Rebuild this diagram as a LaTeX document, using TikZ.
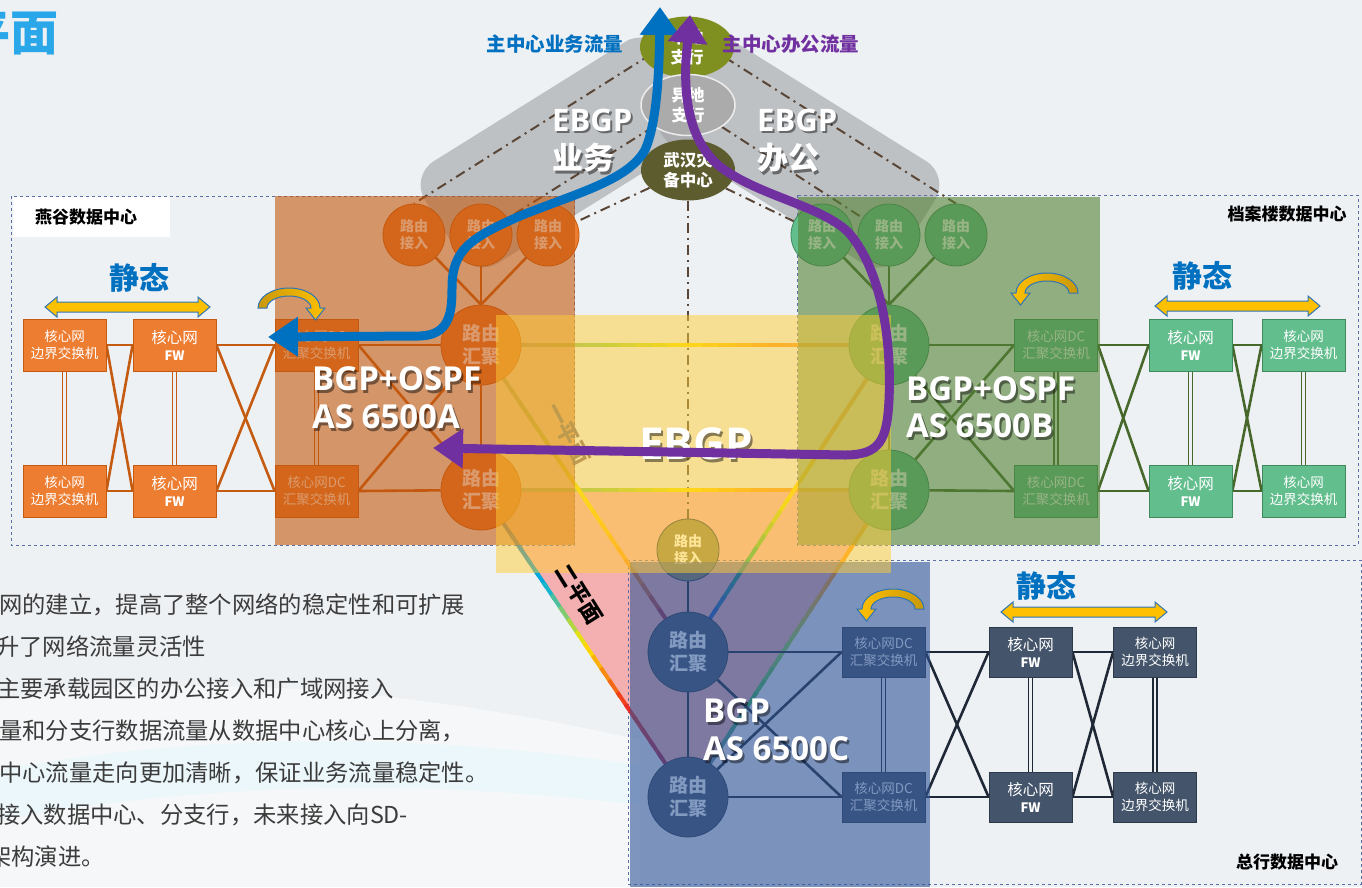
\documentclass[tikz,border=0pt]{standalone}
\usepackage{fontspec}
\setmainfont{Noto Sans CJK SC}
\newfontfamily\osfam{Open Sans}
\usetikzlibrary{arrows.meta,calc,shapes.geometric}
\pgfdeclarelayer{back}
\pgfdeclarelayer{lines}
\pgfsetlayers{back,lines,main}
\definecolor{bg}{HTML}{EEF1F4}
\definecolor{oF}{HTML}{ED7D31}
\definecolor{oD}{HTML}{C55A11}
\definecolor{gF}{HTML}{63BE8E}
\definecolor{gD}{HTML}{3E8A5C}
\definecolor{gL}{HTML}{47682B}
\definecolor{nF}{HTML}{44546A}
\definecolor{nD}{HTML}{2E3A4A}
\definecolor{nL}{HTML}{1E2836}
\definecolor{bandC}{HTML}{9FA1A5}
\definecolor{ddC}{HTML}{5A4636}
\definecolor{boxD}{HTML}{5B6EA6}
\definecolor{blueA}{HTML}{0070C0}
\definecolor{purA}{HTML}{7030A0}
\definecolor{statY}{HTML}{FFC000}
\definecolor{statB}{HTML}{2E75B6}
\definecolor{goldD}{HTML}{C9980A}
\definecolor{olv}{HTML}{7F9020}
\definecolor{olvD}{HTML}{5C5C2E}
\definecolor{ydC}{HTML}{ABABAB}
\definecolor{pinkC}{HTML}{F4B0B0}
\definecolor{titleC}{HTML}{2AA7E8}
\definecolor{txtC}{HTML}{3C3C3C}
\definecolor{ovO}{HTML}{C3580D}
\definecolor{ovG}{HTML}{548235}
\definecolor{ovB}{HTML}{2F5597}
\definecolor{ovY}{HTML}{FFCC33}
\definecolor{rBl}{HTML}{2050C0}
\definecolor{rCy}{HTML}{00B0E0}
\definecolor{rGn}{HTML}{30B060}
\definecolor{rLg}{HTML}{92D050}
\definecolor{rYe}{HTML}{FFE600}
\definecolor{rOr}{HTML}{FF9A20}
\definecolor{rRd}{HTML}{F03020}
\definecolor{rMa}{HTML}{A02050}
\definecolor{rGg}{HTML}{8FAF8F}
\definecolor{rTa}{HTML}{E39A5A}
\definecolor{rSl}{HTML}{6080A0}
\definecolor{tanT}{HTML}{BE9A4E}

\newcommand\fs[2]{\fontsize{#1}{#2}\selectfont}
% gradient line between two round nodes
\newcommand\rline[9]{%
 \colorlet{rc0}{#5}\colorlet{rc1}{#6}\colorlet{rc2}{#7}\colorlet{rc3}{#8}\colorlet{rc4}{#9}%
 \path ($(#1)!#3!(#2)$) coordinate (rs) ($(#2)!#4!(#1)$) coordinate (re);%
 \foreach \k in {0,...,19}{%
   \pgfmathsetmacro\rA{\k/20}%
   \pgfmathsetmacro\rB{min(1,(\k+1.4)/20)}%
   \pgfmathsetmacro\rT{(\k+0.5)/5}%
   \pgfmathtruncatemacro\rS{min(3,floor(\rT))}%
   \pgfmathtruncatemacro\rN{\rS+1}%
   \pgfmathsetmacro\rP{100*(1-(\rT-\rS))}%
   \draw[line width=4, color=rc\rS!\rP!rc\rN] ($(rs)!\rA!(re)$) -- ($(rs)!\rB!(re)$);%
 }}
\newcommand\statarrow[3]{%
 \filldraw[fill=statY, draw=statB, line width=1] (#1,#3) -- (#1+12,#3-10) -- (#1+12,#3-5) -- (#2-12,#3-5) -- (#2-12,#3-10) -- (#2,#3) -- (#2-12,#3+10) -- (#2-12,#3+5) -- (#1+12,#3+5) -- (#1+12,#3+10) -- cycle;}
\newcommand\ribbonR[2]{%
 \shade[left color=goldD, right color=statY, draw=statB, line width=1] (#1-31,#2) arc[start angle=180, end angle=360, x radius=31, y radius=20] -- ++(5,0) -- ++(-9.5,12) -- ++(-9.5,-12) -- ++(5,0) arc[start angle=360, end angle=180, x radius=22, y radius=12] -- cycle;}
\newcommand\ribbonL[2]{%
 \shade[left color=statY, right color=goldD, draw=statB, line width=1] (#1+31,#2) arc[start angle=0, end angle=-180, x radius=31, y radius=20] -- ++(-5,0) -- ++(9.5,12) -- ++(9.5,-12) -- ++(-5,0) arc[start angle=-180, end angle=0, x radius=22, y radius=12] -- cycle;}
\newcommand\shtxt[4]{%
 \node[#3, text=black, text opacity=0.45] at ($#2+(2,2.5)$) {#4};
 \node[#3, text=white] (#1) at #2 {#4};}

\begin{document}
\begin{tikzpicture}[x=1pt, y=-1pt,
  box/.style={rectangle, minimum width=83, minimum height=52, inner sep=0, text=white, align=center, line width=0.8, font=\fs{13.5}{17}},
  obox/.style={box, fill=oF, draw=oD},
  gbox/.style={box, fill=gF, draw=gD},
  nbox/.style={box, fill=nF, draw=nD, minimum height=50},
  rcirc/.style={circle, minimum size=80, inner sep=0, text=white, align=center, line width=0.8, font=\fs{19}{23}\bfseries},
  acirc/.style={circle, minimum size=62, inner sep=0, text=white, align=center, line width=0.8, font=\fs{14}{17}\bfseries},
  ell/.style={ellipse, minimum width=94, minimum height=61, inner sep=0, text=white, align=center, font=\fs{16.5}{20}\bfseries},
  conn/.style={line width=2.6},
  dbl/.style={line width=1.4, double=bg, double distance=2.4},
  ddot/.style={ddC, line width=2, dash pattern=on 10pt off 5pt on 2pt off 5pt},
  flow/.style={line width=9, line join=round, {Triangle[length=30pt,width=38pt]}-{Triangle[length=28pt,width=38pt]}},
  big/.style={font=\osfam\bfseries\fs{33}{36}, inner sep=0, anchor=west},
  para/.style={anchor=west, text=txtC, font=\fs{23.3}{26}, inner sep=0},
  dclab/.style={text=black, font=\fs{17}{20}\bfseries, inner sep=0},
  stat/.style={text=blueA, font=\fs{30}{34}\bfseries, inner sep=0},
]
\useasboundingbox (0,0) rectangle (1362,887);

\begin{pgfonlayer}{back}
\fill[bg] (0,0) rectangle (1362,887);
\fill[white, opacity=0.45] (0,700) .. controls (200,670) and (420,690) .. (640,740) -- (640,887) -- (0,887) -- cycle;
\fill[cyan!10, opacity=0.6] (0,770) .. controls (220,730) and (430,735) .. (640,765) -- (640,805) .. controls (430,780) and (220,780) .. (0,820) -- cycle;
% EBGP bands
\fill[bandC, opacity=0.6, rounded corners=28] (410,176) -- (649,27) -- (713,129) -- (474,278) -- cycle;
\fill[bandC, opacity=0.6, rounded corners=28] (950,176) -- (711,27) -- (647,129) -- (886,278) -- cycle;
% second plane
\fill[pinkC] (481,490) -- (889,490) -- (688,797) -- cycle;
% data-centre frames
\draw[boxD, dashed, line width=1] (11,196) rectangle (574,545);
\draw[boxD, dashed, line width=1] (797,195) rectangle (1358,545);
\draw[boxD, dashed, line width=1] (628,560) rectangle (1361,884);
\end{pgfonlayer}

% title and text
\node[anchor=east, text=titleC, font=\fs{48}{52}\bfseries, inner sep=0] (ttl) at (59,34) {平面};
\node[para] (p1) at (-1,605) {网的建立，提高了整个网络的稳定性和可扩展};
\node[para] (p2) at (-4,647) {升了网络流量灵活性};
\node[para] (p3) at (-3,689) {主要承载园区的办公接入和广域网接入};
\node[para] (p4) at (-1,731) {量和分支行数据流量从数据中心核心上分离，};
\node[para] (p5) at (-1,773) {中心流量走向更加清晰，保证业务流量稳定性。};
\node[para] (p6) at (-3,815) {接入数据中心、分支行，未来接入向SD-};
\node[para] (p7) at (-12,857) {架构演进。};

% branch ellipses
\node[ell, fill=olv] (bd) at (687,47) {本地\\支行};
\node[ell, fill=ydC, draw=white!85!gray, line width=1.5] (yd) at (688,105) {异地\\支行};
\node[ell, fill=olvD] (wh) at (688,170) {武汉灾\\备中心};

% Yangu (orange)
\node[obox] (eL1) at (64.5,345) {核心网\\边界交换机};
\node[obox] (eL2) at (64.5,491) {核心网\\边界交换机};
\node[obox] (fL1) at (174.5,345) {{\fs{15.5}{19}核心网}\\{\fs{13}{16}\bfseries FW}};
\node[obox] (fL2) at (174.5,491) {{\fs{15.5}{19}核心网}\\{\fs{13}{16}\bfseries FW}};
\node[obox] (dL1) at (316.5,345) {核心网DC\\汇聚交换机};
\node[obox] (dL2) at (316.5,491) {核心网DC\\汇聚交换机};
\node[rcirc, fill=oF, draw=oD] (aL1) at (481,345) {路由\\汇聚};
\node[rcirc, fill=oF, draw=oD] (aL2) at (481,490) {路由\\汇聚};
\node[acirc, fill=oF, draw=oD] (acL1) at (414,235) {路由\\接入};
\node[acirc, fill=oF, draw=oD] (acL2) at (481,235) {路由\\接入};
\node[acirc, fill=oF, draw=oD] (acL3) at (548,235) {路由\\接入};

% Archive building (green)
\node[gbox] (dR1) at (1056,345) {核心网DC\\汇聚交换机};
\node[gbox] (dR2) at (1056,491) {核心网DC\\汇聚交换机};
\node[gbox] (fR1) at (1190.5,345) {{\fs{15.5}{19}核心网}\\{\fs{13}{16}\bfseries FW}};
\node[gbox] (fR2) at (1190.5,491) {{\fs{15.5}{19}核心网}\\{\fs{13}{16}\bfseries FW}};
\node[gbox] (eR1) at (1303.5,345) {核心网\\边界交换机};
\node[gbox] (eR2) at (1303.5,491) {核心网\\边界交换机};
\node[rcirc, fill=gF, draw=gD] (aR1) at (889,345) {路由\\汇聚};
\node[rcirc, fill=gF, draw=gD] (aR2) at (889,490) {路由\\汇聚};
\node[acirc, fill=gF, draw=gD] (acR1) at (822,235) {路由\\接入};
\node[acirc, fill=gF, draw=gD] (acR2) at (889,235) {路由\\接入};
\node[acirc, fill=gF, draw=gD] (acR3) at (956,235) {路由\\接入};

% Head office (navy)
\node[nbox] (dB1) at (883.5,652) {核心网DC\\汇聚交换机};
\node[nbox] (dB2) at (883.5,797) {核心网DC\\汇聚交换机};
\node[nbox] (fB1) at (1030.5,652) {{\fs{15.5}{19}核心网}\\{\fs{13}{16}\bfseries FW}};
\node[nbox] (fB2) at (1030.5,797) {{\fs{15.5}{19}核心网}\\{\fs{13}{16}\bfseries FW}};
\node[nbox] (eB1) at (1155,652) {核心网\\边界交换机};
\node[nbox] (eB2) at (1155,797) {核心网\\边界交换机};
\node[rcirc, fill=nF, draw=nD] (aB1) at (688,652) {路由\\汇聚};
\node[rcirc, fill=nF, draw=nD] (aB2) at (688,797) {路由\\汇聚};
\node[acirc, fill=nF!60!ovY, draw=nD] (acB) at (688,550) {路由\\接入};

\begin{pgfonlayer}{lines}
% EBGP dash-dot links
\coordinate (bdL) at (688,31);
\coordinate (bdR) at (688,34);
\draw[ddot] (bdL) -- (acL1.north);
\draw[ddot] (yd) -- (acL2);
\draw[ddot] (wh) -- (acL3);
\draw[ddot] (bdR) -- (acR3.north);
\draw[ddot] (yd) -- (acR2);
\draw[ddot] (wh) -- (acR1);
\draw[ddot] (wh) -- (acB);
% planes
\rline{aL1}{aR1}{38pt}{38pt}{rGg}{rLg}{rYe}{rOr}{rTa}
\rline{aL2}{aR2}{38pt}{38pt}{rGg}{rLg}{rYe}{rOr}{rTa}
\rline{aL2}{aB2}{38pt}{38pt}{rBl}{rCy}{rYe}{rRd}{rMa}
\rline{aL1}{aB1}{38pt}{38pt}{rGg}{rLg}{rYe}{rOr}{rMa}
\rline{aR1}{aB1}{38pt}{38pt}{rTa}{rOr}{rYe}{rGn}{rBl}
\rline{aR2}{aB2}{38pt}{38pt}{rOr}{rOr}{rLg}{rGn}{rSl}
% left connections
\begin{scope}[conn, oD]
\draw (acL1) -- (aL1.north); \draw (acL2) -- (aL1.north); \draw (acL3) -- (aL1.north);
\draw (aL1) -- (aL2);
\draw (aL1) -- (dL1.east); \draw (aL2) -- (dL2.east);
\draw (aL1) -- (dL2.east); \draw (aL2) -- (dL1.east);
\draw (dL1.west) -- (fL1.east); \draw (dL2.west) -- (fL2.east);
\draw (dL1.west) -- (fL2.east); \draw (dL2.west) -- (fL1.east);
\draw (fL1.west) -- (eL1.east); \draw (fL2.west) -- (eL2.east);
\draw (fL1.west) -- (eL2.east); \draw (fL2.west) -- (eL1.east);
\end{scope}
\draw[dbl, oD] (dL1) -- (dL2); \draw[dbl, oD] (fL1) -- (fL2); \draw[dbl, oD] (eL1) -- (eL2);
% right connections
\begin{scope}[conn, gL]
\draw (acR1) -- (aR1.north); \draw (acR2) -- (aR1.north); \draw (acR3) -- (aR1.north);
\draw (aR1) -- (aR2);
\draw (aR1) -- (dR1.west); \draw (aR2) -- (dR2.west);
\draw (aR1) -- (dR2.west); \draw (aR2) -- (dR1.west);
\draw (dR1.east) -- (fR1.west); \draw (dR2.east) -- (fR2.west);
\draw (dR1.east) -- (fR2.west); \draw (dR2.east) -- (fR1.west);
\draw (fR1.east) -- (eR1.west); \draw (fR2.east) -- (eR2.west);
\draw (fR1.east) -- (eR2.west); \draw (fR2.east) -- (eR1.west);
\end{scope}
\draw[dbl, gL] (dR1) -- (dR2); \draw[dbl, gL] (fR1) -- (fR2); \draw[dbl, gL] (eR1) -- (eR2);
% bottom connections
\begin{scope}[conn, nL]
\draw (acB) -- (aB1);
\draw (aB1) -- (aB2);
\draw (aB1) -- (dB1.west); \draw (aB2) -- (dB2.west);
\draw (aB1) -- (dB2.west); \draw (aB2) -- (dB1.west);
\draw (dB1.east) -- (fB1.west); \draw (dB2.east) -- (fB2.west);
\draw (dB1.east) -- (fB2.west); \draw (dB2.east) -- (fB1.west);
\draw (fB1.east) -- (eB1.west); \draw (fB2.east) -- (eB2.west);
\draw (fB1.east) -- (eB2.west); \draw (fB2.east) -- (eB1.west);
\end{scope}
\draw[dbl, nL] (dB1) -- (dB2); \draw[dbl, nL] (fB1) -- (fB2); \draw[dbl, nL] (eB1) -- (eB2);
\end{pgfonlayer}

% AS overlays
\fill[ovO, opacity=0.6] (275,196) rectangle (575,545);
\fill[ovG, opacity=0.6] (798,197) rectangle (1100,545);
\fill[ovB, opacity=0.6] (630,562) rectangle (930,887);
\fill[ovY, opacity=0.5] (496,315) rectangle (891,573);

% labels of data centres
\node[fill=white, minimum width=157, minimum height=40, inner sep=0] (ygbox) at (91.5,217) {};
\node[dclab] (yg) at (86,217) {燕谷数据中心};
\node[dclab] (da) at (1287,214) {档案楼数据中心};
\node[dclab] (zh) at (1287,862) {总行数据中心};

% static routes
\node[stat] (st1) at (139,278) {静态};
\node[stat] (st2) at (1202,276) {静态};
\node[stat] (st3) at (1046,586) {静态};
\statarrow{45}{210}{307}
\statarrow{1155}{1320}{306}
\statarrow{1001}{1167}{612}
\ribbonR{289}{308}
\ribbonL{1047}{293}
\ribbonL{893}{609}

% plane labels
\node[rotate=-62, text=tanT, font=\fs{22}{24}\bfseries, inner sep=0] (pl1) at (568,434) {一平面};
\node[rotate=-58, text=black, font=\fs{22}{24}\bfseries, inner sep=0] (pl2) at (579,594) {二平面};

% big labels
\shtxt{asA1}{(312,379)}{big}{BGP+OSPF}
\shtxt{asA2}{(312,417)}{big}{AS 6500A}
\shtxt{asB1}{(906,389)}{big}{BGP+OSPF}
\shtxt{asB2}{(906,426)}{big}{AS 6500B}
\shtxt{asC1}{(703,711)}{big}{BGP}
\shtxt{asC2}{(703,749)}{big}{AS 6500C}
\shtxt{eb1}{(552,120)}{big, font=\osfam\bfseries\fs{31}{34}}{EBGP}
\shtxt{eb2}{(552,158)}{anchor=west, inner sep=0, font=\fs{31}{34}\bfseries}{业务}
\shtxt{eb3}{(757,120)}{big, font=\osfam\bfseries\fs{31}{34}}{EBGP}
\shtxt{eb4}{(757,158)}{anchor=west, inner sep=0, font=\fs{31}{34}\bfseries}{办公}
\shtxt{ebc}{(696,444)}{inner sep=0, font=\osfam\bfseries\fs{44}{48}}{EBGP}

% traffic flows
\node[text=blueA, font=\fs{19.5}{22}\bfseries, inner sep=0] (lb1) at (555,44) {主中心业务流量};
\node[text=purA, font=\fs{19.5}{22}\bfseries, inner sep=0] (lb2) at (791,44) {主中心办公流量};
\coordinate (bS) at (268,337);
\coordinate (bE) at (660,7);
\coordinate (pS) at (433,448);
\coordinate (pE) at (690,15);
\draw[flow, blueA] (bS) -- (420,336) .. controls (450,335) and (452,312) .. (452,288) .. controls (452,250) and (470,238) .. (520,216) .. controls (580,192) and (628,180) .. (645,150) .. controls (656,125) and (659,80) .. (bE);
\draw[flow, purA] (pS) -- (845,455) .. controls (880,455) and (887,440) .. (889,400) .. controls (892,330) and (878,265) .. (848,232) .. controls (820,205) and (755,195) .. (718,165) .. controls (690,140) and (684,100) .. (686,60) -- (pE);
\end{tikzpicture}
\end{document}
